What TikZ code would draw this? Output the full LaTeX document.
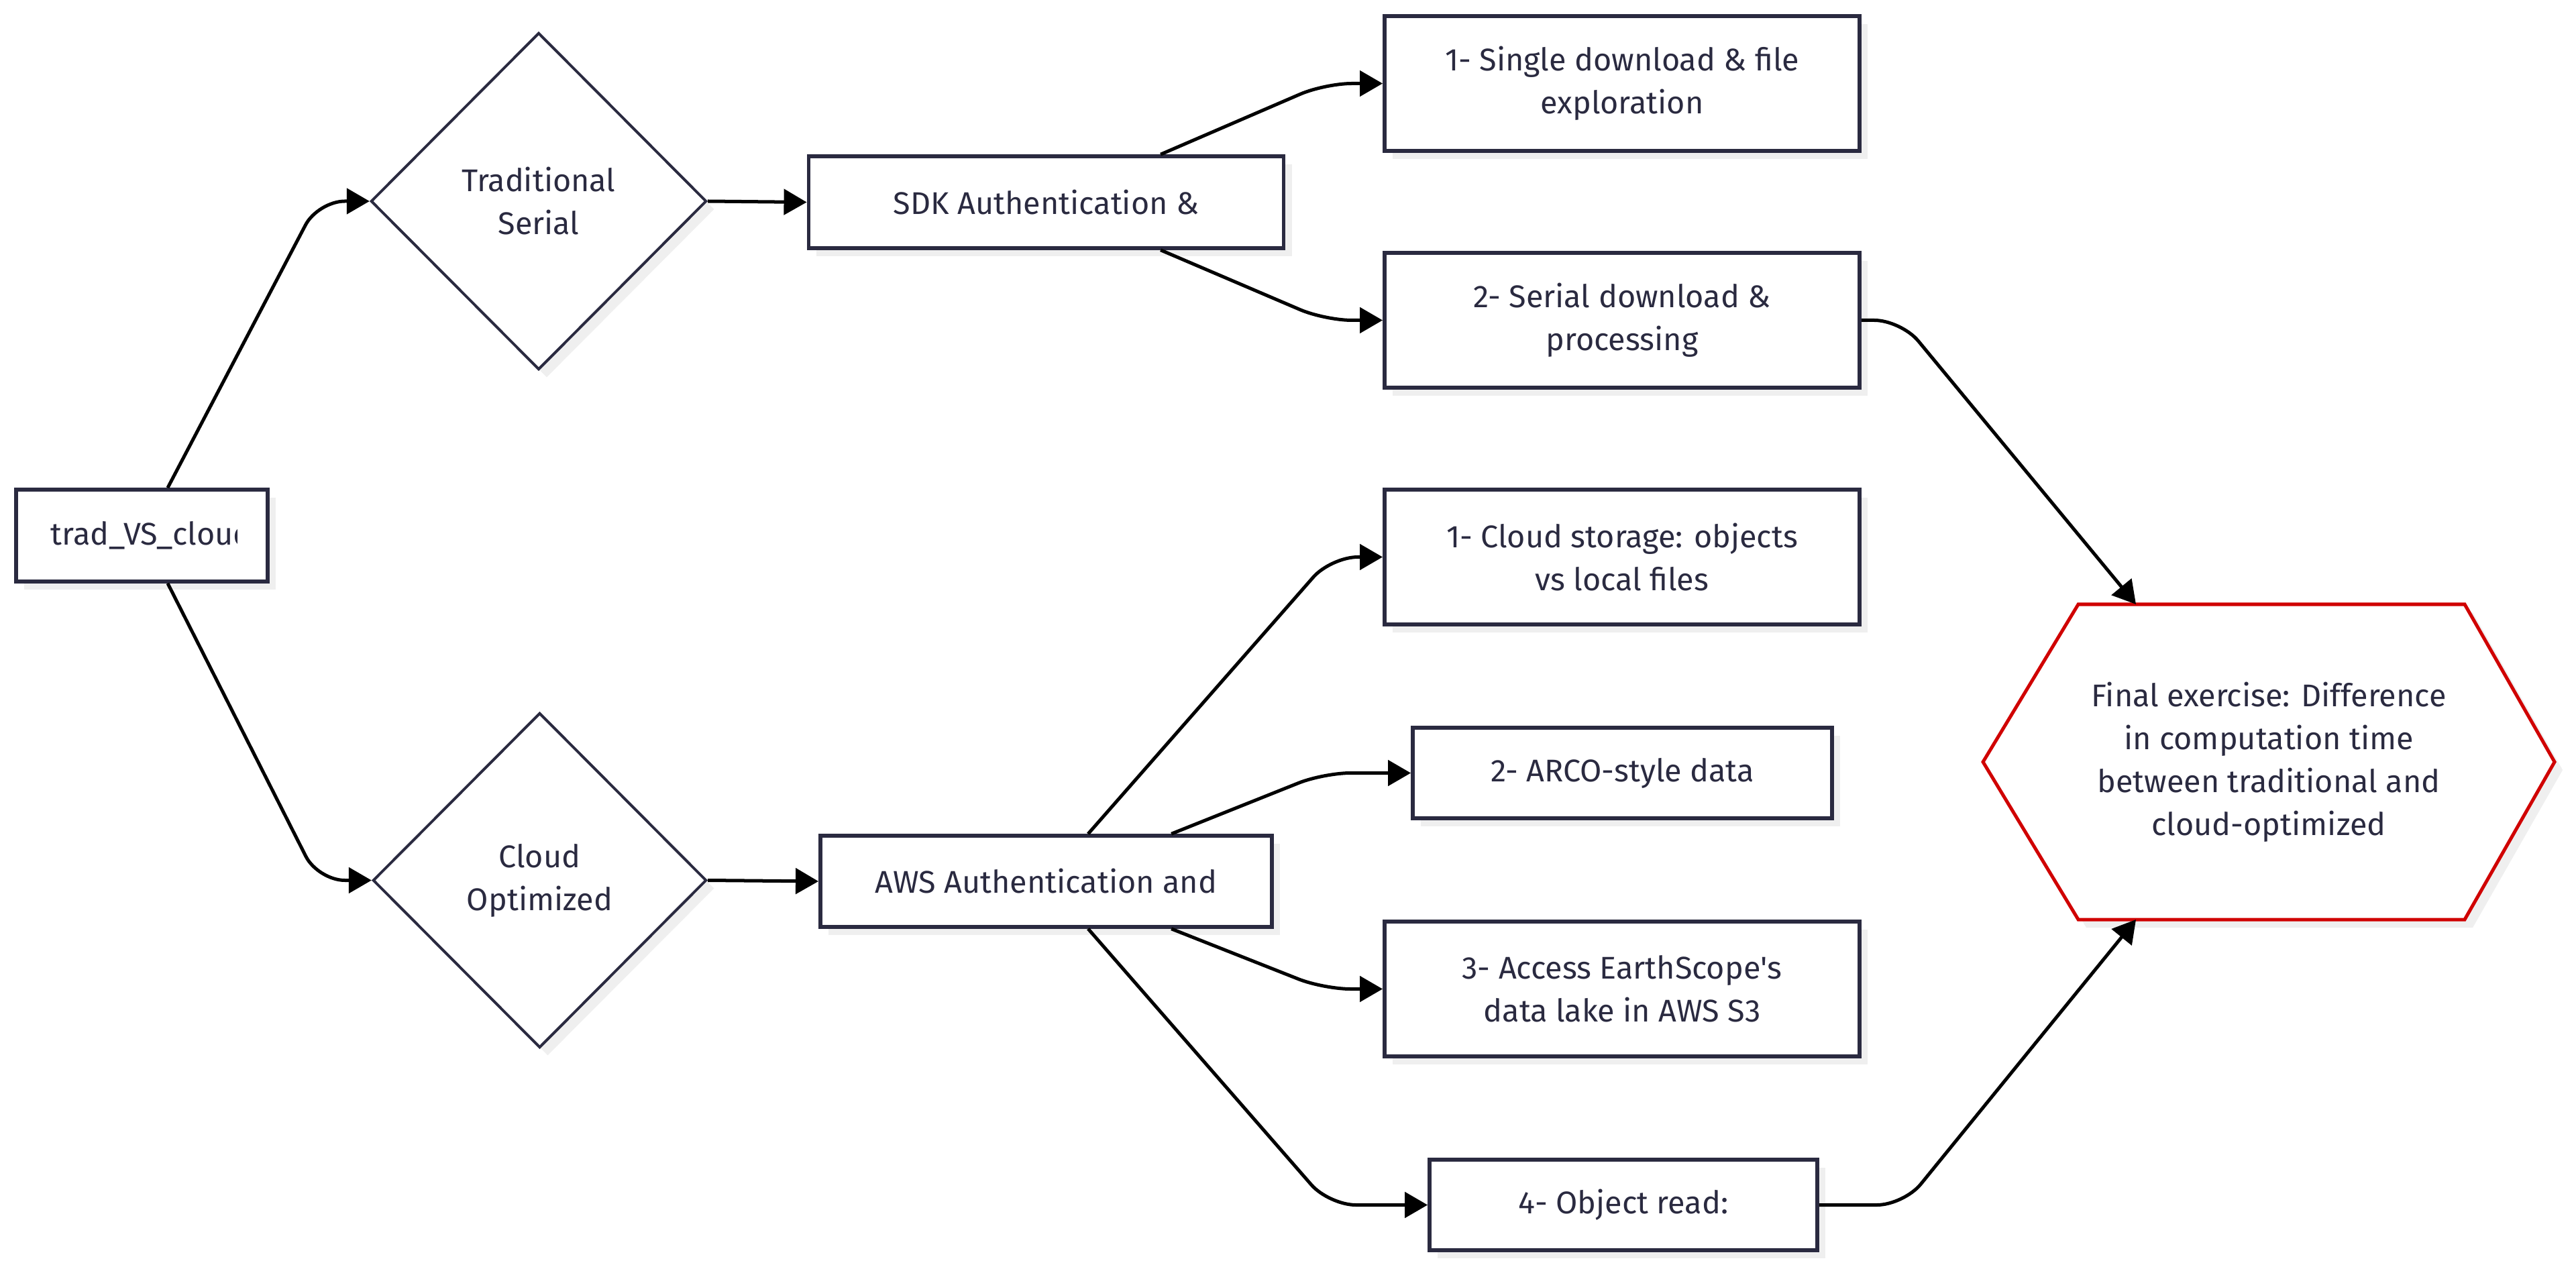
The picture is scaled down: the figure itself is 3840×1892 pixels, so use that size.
\documentclass[tikz,border=0pt]{standalone}
\usepackage{fontspec}
\setmainfont{Fira Sans}
\newfontfamily\nomapfont{Fira Sans}
\usetikzlibrary{arrows.meta,shapes.geometric,shadows,calc}
\definecolor{navy}{HTML}{2A2A40}
\definecolor{hexred}{HTML}{D00000}
\definecolor{shadowgray}{HTML}{EFEFEF}
\begin{document}
\begin{tikzpicture}[x=0.01cm,y=-0.01cm,
 lbl/.style={font=\fontsize{13.3}{18.2}\selectfont, text=navy, align=center},
 shad/.style={drop shadow={shadow xshift=0.12cm,shadow yshift=-0.12cm,fill=shadowgray,opacity=1}},
 box/.style={lbl, draw=navy, line width=0.055cm, fill=white, shad, rectangle, inner sep=0pt},
 dia/.style={lbl, draw=navy, line width=0.04cm, fill=white, shad, diamond, inner sep=0pt},
 conn/.style={draw=black, line width=0.05cm, rounded corners=0.4cm, -{Triangle[length=0.34cm,width=0.38cm]}}]
\fill[white] (0,0) rectangle (3840,1892);
\useasboundingbox (0,0) rectangle (3840,1892);

% start node with clipped text
\node[box, minimum width=3.75cm, minimum height=1.37cm] (trad) at (211.5,798.5) {};
\begin{scope}
\clip (60,740) rectangle (353,860);
\node[lbl, anchor=west, inner sep=0pt] (tradtxt) at (75,798.5) {trad\_VS\_cloud};
\end{scope}

% diamonds
\node[dia, minimum width=5cm, minimum height=5.02cm] (D1) at (803,300) {Traditional\\Serial};
\node[dia, minimum width=4.97cm, minimum height=4.99cm] (D2) at (804.5,1312.5) {Cloud\\Optimized};

% auth boxes
\node[box, minimum width=7.08cm, minimum height=1.37cm] (SDK) at (1559.5,301.5) {SDK Authentication \&};
\node[box, minimum width=6.73cm, minimum height=1.36cm] (AWS) at (1559.5,1314) {AWS Authentication and};

% step boxes
\node[box, minimum width=7.08cm, minimum height=2.01cm] (b1) at (2418,124.5) {1- Single download \& file\\exploration};
\node[box, minimum width=7.08cm, minimum height=2.01cm] (b2) at (2418,477.5) {2- Serial download \&\\processing};
\node[box, minimum width=7.08cm, minimum height=2.01cm] (c1) at (2418,830.5) {1- Cloud storage: objects\\vs local files};
\node[box, minimum width=6.25cm, minimum height=1.35cm] (c2) at (2418.5,1152.5) {2- ARCO-style data};
\node[box, minimum width=7.08cm, minimum height=2.01cm] (c3) at (2418,1474.5) {3- Access EarthScope{\nomapfont'}s\\data lake in AWS S3};
\node[box, minimum width=5.78cm, minimum height=1.35cm] (c4) at (2420,1796.5) {4- Object read:};

% hexagon
\path[draw=hexred, line width=0.05cm, fill=white, shad]
  (2956,1136) -- (3098,901) -- (3674,901) -- (3808,1136) -- (3674,1371) -- (3098,1371) -- cycle;
\node[lbl] (hex) at (3382,1136) {Final exercise: Difference\\in computation time\\between traditional and\\cloud-optimized};
\coordinate (hexA) at (3184,901);
\coordinate (hexB) at (3184,1371);

% connectors
\draw[conn] ([xshift=0.385cm]trad.north) -- (474,300) -- (D1.west);
\draw[conn] ([xshift=0.385cm]trad.south) -- (474,1312.5) -- (D2.west);
\draw[conn] (D1.east) -- (SDK.west);
\draw[conn] (D2.east) -- (AWS.west);
\draw[conn] ([xshift=1.705cm]SDK.north) -- (1975,124.5) -- (b1.west);
\draw[conn] ([xshift=1.705cm]SDK.south) -- (1975,477.5) -- (b2.west);
\draw[conn] (b2.east) -- (2834,477.5) -- (hexA);
\draw[conn] ([xshift=0.625cm]AWS.north) -- (1984,830.5) -- (c1.west);
\draw[conn] ([xshift=1.865cm]AWS.north) -- (1973,1152.5) -- (c2.west);
\draw[conn] ([xshift=1.865cm]AWS.south) -- (1973,1474.5) -- (c3.west);
\draw[conn] ([xshift=0.625cm]AWS.south) -- (1981,1796.5) -- (c4.west);
\draw[conn] (c4.east) -- (2838,1796.5) -- (hexB);
\end{tikzpicture}
\end{document}
